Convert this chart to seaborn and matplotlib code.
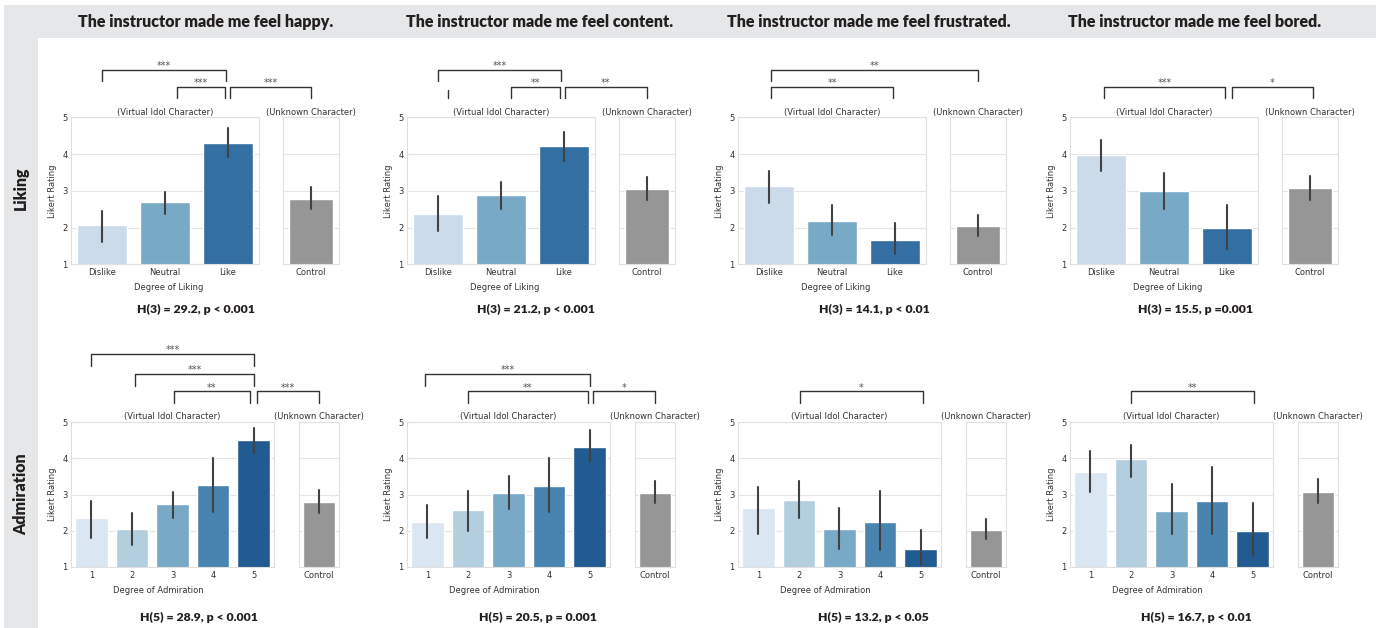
import numpy as np
import pandas as pd
import matplotlib
matplotlib.use("Agg")
import matplotlib.pyplot as plt
import seaborn as sns
from matplotlib.lines import Line2D
from matplotlib.patches import Rectangle

W, H = 1376, 628

# ---------------- data ----------------
emotions = ["happy", "content", "frustrated", "bored"]
row_titles = ["Liking", "Admiration"]
liking_cats = ["Dislike", "Neutral", "Like"]
admiration_cats = ["1", "2", "3", "4", "5"]
control_cat = ["Control"]

liking_mean = [[2.07, 2.69, 4.31], [2.38, 2.88, 4.21], [3.14, 2.19, 1.65], [3.99, 3.00, 2.00]]
liking_lo = [[1.62, 2.37, 3.93], [1.90, 2.51, 3.81], [2.68, 1.81, 1.27], [3.54, 2.52, 1.42]]
liking_hi = [[2.46, 2.98, 4.72], [2.86, 3.24, 4.61], [3.54, 2.61, 2.12], [4.40, 3.49, 2.62]]
liking_ctrl_mean = [2.78, 3.04, 2.03, 3.09]
liking_ctrl_lo = [2.50, 2.75, 1.76, 2.76]
liking_ctrl_hi = [3.10, 3.37, 2.35, 3.41]

adm_mean = [[2.34, 2.06, 2.73, 3.26, 4.49], [2.25, 2.56, 3.04, 3.24, 4.31],
            [2.62, 2.84, 2.04, 2.25, 1.49], [3.62, 3.99, 2.55, 2.81, 1.99]]
adm_lo = [[1.79, 1.61, 2.35, 2.52, 4.15], [1.80, 1.99, 2.59, 2.53, 3.90],
          [1.91, 2.34, 1.49, 1.46, 1.06], [3.08, 3.49, 1.92, 1.91, 1.31]]
adm_hi = [[2.82, 2.50, 3.06, 4.02, 4.83], [2.71, 3.09, 3.50, 4.01, 4.77],
          [3.20, 3.37, 2.63, 3.10, 2.02], [4.19, 4.37, 3.28, 3.75, 2.77]]
adm_ctrl_mean = [2.78, 3.05, 2.03, 3.07]
adm_ctrl_lo = [2.50, 2.76, 1.77, 2.76]
adm_ctrl_hi = [3.12, 3.38, 2.33, 3.42]

liking_stats = ["H(3) = 29.2, p < 0.001", "H(3) = 21.2, p < 0.001",
                "H(3) = 14.1, p < 0.01", "H(3) = 15.5, p =0.001"]
adm_stats = ["H(5) = 28.9, p < 0.001", "H(5) = 20.5, p = 0.001",
             "H(5) = 13.2, p < 0.05", "H(5) = 16.7, p < 0.01"]

# significance brackets: (start, end, level, label); end None = lone leg
liking_brackets = [
    [(("m", 0.0), ("m", 1.97), 2, "***"), (("m", 1.19), ("m", 1.95), 1, "***"), (("m", 2.04), ("c", 0.0), 1, "***")],
    [(("m", 0.0), ("m", 1.95), 2, "***"), (("m", 0.15), None, 1, ""),
     (("m", 1.16), ("m", 1.94), 1, "**"), (("m", 2.02), ("c", 0.0), 1, "**")],
    [(("m", 0.03), ("c", 0.0), 2, "**"), (("m", 0.03), ("m", 1.98), 1, "**")],
    [(("m", 0.04), ("m", 1.98), 1, "***"), (("m", 2.08), ("c", 0.05), 1, "*")],
]
adm_brackets = [
    [(("m", 0.0), ("m", 4.0), 3, "***"), (("m", 1.08), ("m", 4.0), 2, "***"),
     (("m", 2.03), ("m", 3.91), 1, "**"), (("m", 4.08), ("c", 0.0), 1, "***")],
    [(("m", -0.05), ("m", 4.0), 2, "***"), (("m", 1.0), ("m", 3.96), 1, "**"), (("m", 4.08), ("c", 0.0), 1, "*")],
    [(("m", 1.03), ("m", 4.05), 1, "*")],
    [(("m", 1.0), ("m", 4.04), 1, "**")],
]

# ---------------- style ----------------
sns.set_theme(style="whitegrid")
plt.rcParams.update({
    "font.family": ["DejaVu Sans"],
    "font.size": 6,
    "axes.labelsize": 6,
    "axes.titlesize": 6,
    "xtick.labelsize": 6,
    "ytick.labelsize": 6,
    "axes.edgecolor": ".88",
    "grid.color": ".9",
    "axes.linewidth": 0.8,
    "grid.linewidth": 0.8,
    "xtick.major.pad": 3,
    "ytick.major.pad": 2.5,
    "axes.labelpad": 4,
    "axes.labelcolor": ".2",
    "xtick.color": ".2",
    "ytick.color": ".2",
    "text.color": ".2",
})

fig = plt.figure(figsize=(W / 100, H / 100), dpi=100)
BOLD = dict(family="Lato", fontweight="heavy", color="#231f20")

# background bands
fig.add_artist(Rectangle((4 / W, 1 - 38 / H), (W - 4) / W, 33 / H, transform=fig.transFigure,
                         facecolor="#e6e7e8", edgecolor="none", zorder=0))
fig.add_artist(Rectangle((4 / W, 0), 34 / W, 1 - 38 / H, transform=fig.transFigure,
                         facecolor="#e6e7e8", edgecolor="none", zorder=0))


def px_axes(x0, y0, x1, y1):
    return fig.add_axes([x0 / W, 1 - y1 / H, (x1 - x0) / W, (y1 - y0) / H])


def bar_frame(cats, mean, lo, hi):
    rows = []
    for c, m, l, h in zip(cats, mean, lo, hi):
        for v in (l, m, h):
            rows.append({"cat": c, "rating": v})
    return pd.DataFrame(rows)


ERR = {"linewidth": 1.5, "color": ".26"}


def draw_panel(main_box, ctrl_box, cats, mean, lo, hi, cm, cl, ch, xlabel, xlabel_x):
    ax = px_axes(*main_box)
    df = bar_frame(cats, mean, lo, hi)
    sns.barplot(data=df, x="cat", y="rating", hue="cat", order=cats, hue_order=cats,
                palette="Blues", legend=False, estimator="median", errorbar=("pi", 100),
                err_kws=ERR, ax=ax)
    ax.set_ylim(1, 5)
    ax.set_yticks([1, 2, 3, 4, 5])
    ax.set_xlim(-0.5, len(cats) - 0.5)
    ax.set_ylabel("Likert Rating")
    ax.set_xlabel(xlabel, x=xlabel_x)
    ax.set_title("(Virtual Idol Character)", pad=2)
    ax.tick_params(length=0)

    ax2 = px_axes(*ctrl_box)
    cdf = bar_frame(control_cat, [cm], [cl], [ch])
    sns.barplot(data=cdf, x="cat", y="rating", color=".59", estimator="median",
                errorbar=("pi", 100), err_kws=ERR, ax=ax2)
    ax2.set_ylim(1, 5)
    ax2.set_yticks([1, 2, 3, 4, 5])
    ax2.tick_params(labelleft=False, length=0)
    ax2.set_xlim(-0.5, 0.5)
    ax2.set_ylabel("")
    ax2.set_xlabel("")
    ax2.set_title("(Unknown Character)", pad=2)
    return ax, ax2


LEVEL = {1: 31, 2: 48, 3: 68}
LEG = 11.5


def draw_brackets(ax, ax2, specs):
    top = ax.transAxes.transform((0, 1))[1]
    axes = {"m": ax, "c": ax2}

    def xpix(end):
        a, p = end
        return axes[a].transData.transform((p, 1))[0]

    for start, end, level, label in specs:
        y = top + LEVEL[level]
        yb = y - LEG
        x1 = xpix(start)
        if end is None:
            fig.add_artist(Line2D([x1 / W, x1 / W], [(y - 3) / H, yb / H], transform=fig.transFigure,
                                  color="#333333", lw=1.0))
            continue
        x2 = xpix(end)
        fig.add_artist(Line2D([x1 / W, x1 / W, x2 / W, x2 / W], [yb / H, y / H, y / H, yb / H],
                              transform=fig.transFigure, color="#333333", lw=1.0))
        fig.text((x1 + x2) / 2 / W, (y + 0.5) / H, label, ha="center", va="baseline",
                 fontsize=7, color="#555555")


main_left = [71, 407, 738, 1070]
col_centers = [206, 540, 869, 1195]
stat_x_top = [196, 536, 874, 1195]
stat_x_bot = [199, 538, 873, 1196]

for i in range(4):
    x0 = main_left[i]
    # top row: liking
    ax, ax2 = draw_panel((x0, 117.5, x0 + 188, 264.3), (x0 + 212, 117.5, x0 + 268, 264.3),
                         liking_cats, liking_mean[i], liking_lo[i], liking_hi[i],
                         liking_ctrl_mean[i], liking_ctrl_lo[i], liking_ctrl_hi[i],
                         "Degree of Liking", 0.52)
    draw_brackets(ax, ax2, liking_brackets[i])
    # bottom row: admiration
    bx, bx2 = draw_panel((x0, 422, x0 + 203, 567), (x0 + 228, 422, x0 + 268, 567),
                         admiration_cats, adm_mean[i], adm_lo[i], adm_hi[i],
                         adm_ctrl_mean[i], adm_ctrl_lo[i], adm_ctrl_hi[i],
                         "Degree of Admiration", 0.43)
    draw_brackets(bx, bx2, adm_brackets[i])

    fig.text(col_centers[i] / W, 1 - 22 / H, f"The instructor made me feel {emotions[i]}.",
             ha="center", va="center", fontsize=11.5, **BOLD)
    fig.text(stat_x_top[i] / W, 1 - 309 / H, liking_stats[i], ha="center", va="center",
             fontsize=8.8, **BOLD)
    fig.text(stat_x_bot[i] / W, 1 - 617 / H, adm_stats[i], ha="center", va="center",
             fontsize=8.8, **BOLD)

fig.text(21 / W, 1 - 188 / H, row_titles[0], rotation=90, ha="center", va="center", fontsize=11.5, **BOLD)
fig.text(21 / W, 1 - 494 / H, row_titles[1], rotation=90, ha="center", va="center", fontsize=11.5, **BOLD)

fig.savefig("out.png", dpi=100)
